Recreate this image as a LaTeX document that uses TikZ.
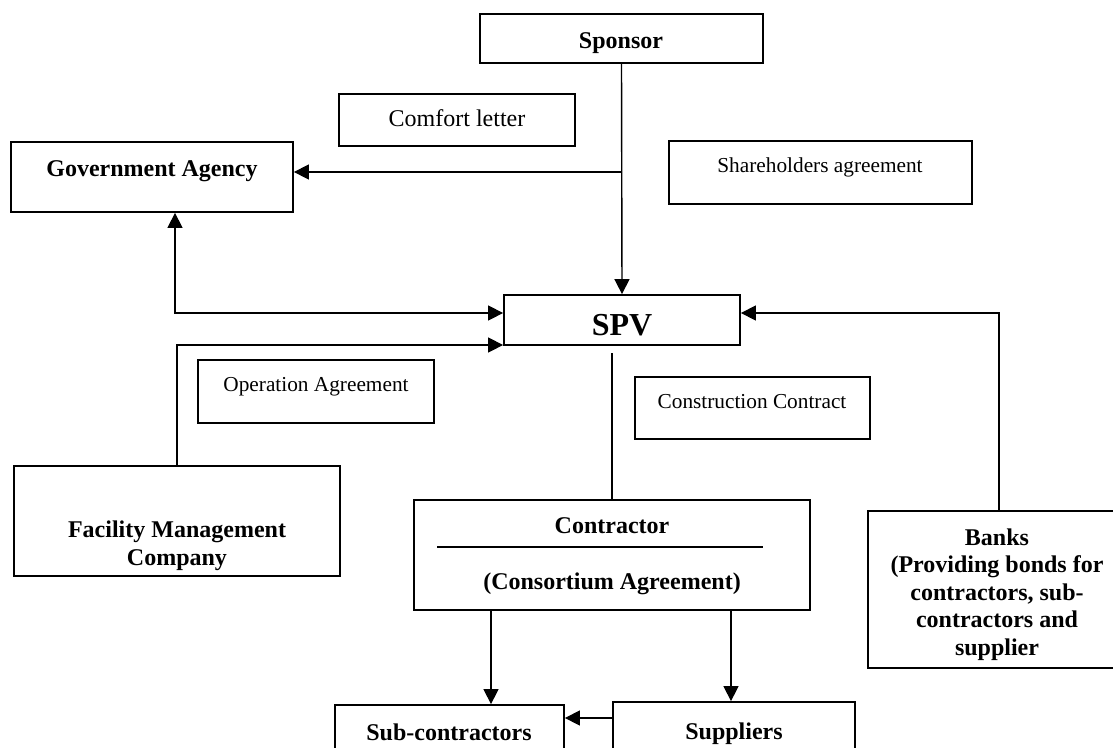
\documentclass[tikz,border=0pt]{standalone}
\usepackage{fontspec}
\setmainfont{Liberation Serif}
\usetikzlibrary{arrows.meta,fit}

\tikzset{
  box/.style={draw, line width=1.8pt, inner sep=0pt},
  head/.style={font=\bfseries\fontsize{24}{27.5}\selectfont, align=center, inner sep=0pt, anchor=base},
  note/.style={font=\fontsize{21.3}{24}\selectfont, inner sep=0pt, anchor=base},
  link/.style={line width=1.4pt},
  oneway/.style={link, -{Triangle[length=15pt,width=15pt]}},
  twoway/.style={link, {Triangle[length=15pt,width=15pt]}-{Triangle[length=15pt,width=15pt]}},
}

\begin{document}
\begin{tikzpicture}[x=1pt,y=-1pt]
\fill[white] (0,0) rectangle (1113,747);
\useasboundingbox (0,0) rectangle (1113,747);
\clip (0,0) rectangle (1113,747);

% Cajas
\node[box, fit={(480,14) (763,63)}] (sponsor) {};
\node[box, fit={(339,94) (575,146)}] (comfort) {};
\node[box, fit={(11,142) (293,212)}] (gov) {};
\node[box, fit={(669,141) (972,204)}] (share) {};
\node[box, fit={(504,295) (740,345)}] (spv) {};
\node[box, fit={(198,360) (434,423)}] (oper) {};
\node[box, fit={(635,377) (870,439)}] (constr) {};
\node[box, fit={(14,466) (340,576)}] (fmc) {};
\node[box, fit={(414,500) (810,610)}] (contr) {};
\node[box, fit={(868,511) (1126,668)}] (banks) {};
\node[box, fit={(335,705) (564,770)}] (sub) {};
\node[box, fit={(613,702) (855,770)}] (supp) {};

% Textos
\node[head] (sponsortxt) at (621,48) {Sponsor};
\node[note, font=\fontsize{24}{27}\selectfont] (comforttxt) at (457,126.7) {Comfort letter};
\node[head] (govtxt) at (152,176.7) {Government Agency};
\node[note] (sharetxt) at (820,172.7) {Shareholders agreement};
\node[head, font=\bfseries\fontsize{32}{36}\selectfont] (spvtxt) at (622,335) {SPV};
\node[note] (opertxt) at (316,391) {Operation Agreement};
\node[note] (constrtxt) at (752,408) {Construction Contract};
\node[head] (fmctxt) at (177,565) {Facility Management\\Company};
\node[head] (contrtxt) at (612,533) {Contractor};
\node[head] (constxt) at (612,589) {(Consortium Agreement)};
\node[head] (bankstxt) at (997,655) {Banks\\(Providing bonds for\\contractors, sub-\\contractors and\\supplier};
\node[head] (subtxt) at (449,740) {Sub-contractors};
\node[head] (supptxt) at (734,739) {Suppliers};

% Puntos de quiebre
\coordinate (split) at (622,172);
\coordinate (govbend) at (175,313);
\coordinate (fmcbend) at (177,345);
\coordinate (bankbend) at (999,313);
\coordinate (spvfoot) at (612,353);
\coordinate (subdrop) at (491,0);
\coordinate (suppdrop) at (731,0);
\coordinate (sidelink) at (0,718);

% Conectores
\draw[oneway] (sponsor.south) -- (spv.north);
\draw[oneway] (split) -- (split -| gov.east);
\draw[twoway] (gov.south -| govbend) -- (govbend) -- (govbend -| spv.west);
\draw[oneway] (fmc.north -| fmcbend) -- (fmcbend) -- (fmcbend -| spv.west);
\draw[oneway] (banks.north -| bankbend) -- (bankbend) -- (bankbend -| spv.east);
\draw[link] (spvfoot) -- (spvfoot |- contr.north);
\draw[link] (437,547) -- (763,547);
\draw[oneway] (contr.south -| subdrop) -- (sub.north -| subdrop);
\draw[oneway] (contr.south -| suppdrop) -- (supp.north -| suppdrop);
\draw[oneway] (supp.west |- sidelink) -- (sub.east |- sidelink);
\end{tikzpicture}
\end{document}
